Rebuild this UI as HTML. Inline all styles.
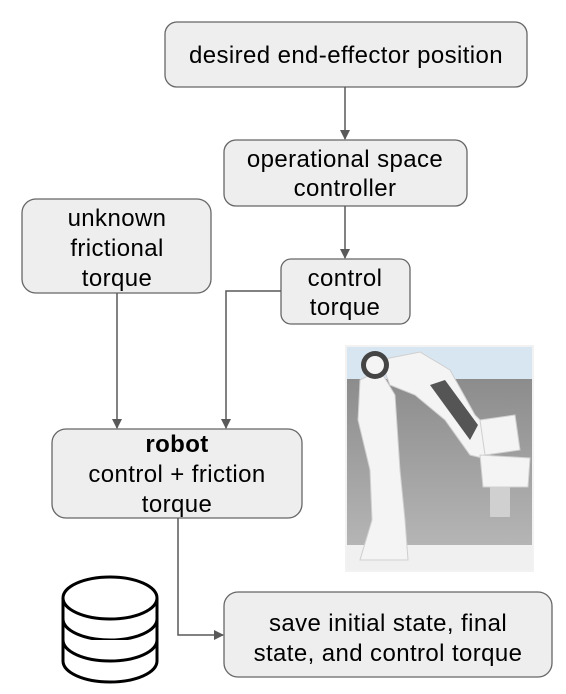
<!DOCTYPE html>
<html><head><meta charset="utf-8"><style>
html,body{margin:0;padding:0;background:#fff;width:566px;height:694px;overflow:hidden}
text{font-family:"Liberation Sans",Arial,sans-serif;font-size:24px;letter-spacing:0.4px;fill:#000;text-anchor:middle}
</style></head><body>
<svg width="566" height="694" viewBox="0 0 566 694" xmlns="http://www.w3.org/2000/svg">
<defs>
<marker id="a" markerWidth="10" markerHeight="10" refX="9" refY="5" orient="auto" markerUnits="userSpaceOnUse">
<path d="M0,0 L10,5 L0,10 z" fill="#595959"/></marker>
<linearGradient id="bg" x1="0" y1="0" x2="0" y2="1">
<stop offset="0" stop-color="#8c8c8c"/><stop offset="1" stop-color="#b5b5b5"/></linearGradient>
</defs>
<g fill="#eeeeee" stroke="#666" stroke-width="1.3">
<rect x="165" y="22" width="362" height="65" rx="12"/>
<rect x="224" y="140" width="243" height="66" rx="12"/>
<rect x="22" y="199" width="189" height="94" rx="14"/>
<rect x="281" y="259" width="129" height="65" rx="10"/>
<rect x="52" y="429" width="250" height="89" rx="14"/>
<rect x="224" y="592" width="328" height="85" rx="14"/>
</g>
<g stroke="#595959" stroke-width="1.5" fill="none">
<path d="M345 87 V139" marker-end="url(#a)"/>
<path d="M345 206 V258" marker-end="url(#a)"/>
<path d="M117 293 V428" marker-end="url(#a)"/>
<path d="M281 291 H226 V428" marker-end="url(#a)"/>
<path d="M178 518 V635 H223" marker-end="url(#a)"/>
</g>
<text x="346" y="63">desired end-effector position</text>
<text x="345" y="167">operational space</text>
<text x="345" y="196">controller</text>
<text x="117" y="226">unknown</text>
<text x="117" y="256">frictional</text>
<text x="117" y="286">torque</text>
<text x="345" y="286">control</text>
<text x="345" y="315">torque</text>
<text x="177" y="452" font-weight="bold">robot</text>
<text x="177" y="482">control + friction</text>
<text x="177" y="512">torque</text>
<text x="388" y="631">save initial state, final</text>
<text x="388" y="661">state, and control torque</text>
<!-- photo -->
<rect x="345" y="345" width="189" height="227" fill="#f2f2f2"/>
<rect x="347" y="347" width="185" height="32" fill="#d8e6f2"/>
<rect x="347" y="379" width="185" height="166" fill="url(#bg)"/>
<rect x="347" y="545" width="185" height="25" fill="#f0f0f0"/>
<g fill="#f4f4f4" stroke="#cfcfcf" stroke-width="1">
<path d="M360 380 L380 370 L395 395 L400 470 L405 520 L408 560 L360 560 L372 520 L370 470 L358 420 Z"/>
<path d="M380 360 L420 352 L450 370 L475 415 L490 430 L490 460 L470 455 L445 420 L415 395 L390 385 Z"/>
<path d="M480 420 L515 415 L520 450 L485 455 Z"/>
<path d="M480 455 L530 458 L528 487 L483 487 Z"/>
</g>
<ellipse cx="375" cy="365" rx="14" ry="14" fill="#444"/>
<ellipse cx="375" cy="365" rx="9" ry="9" fill="#f4f4f4"/>
<path d="M430 385 L445 380 L478 425 L470 440 Z" fill="#555"/>
<rect x="490" y="487" width="20" height="30" fill="#d0d0d0"/>
<!-- database -->
<g fill="#fff" stroke="#000" stroke-width="3">
<path d="M63 598 V661 A47 21 0 0 0 157 661 V598"/>
<path d="M63 619 A47 21 0 0 0 157 619"/>
<path d="M63 640 A47 21 0 0 0 157 640"/>
<ellipse cx="110" cy="598" rx="47" ry="21"/>
</g>
</svg>
</body></html>
